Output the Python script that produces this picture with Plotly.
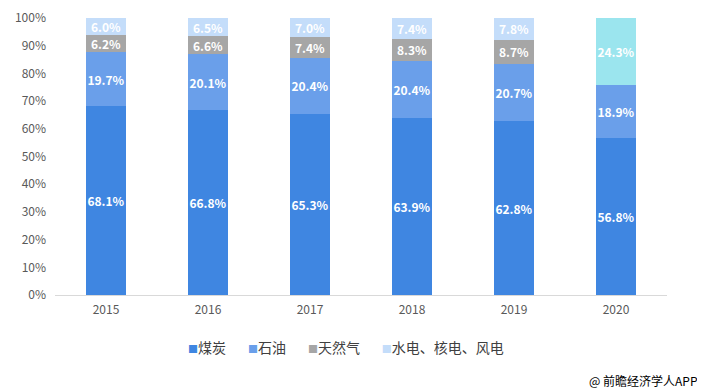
import plotly.graph_objects as go

years = ["2015", "2016", "2017", "2018", "2019", "2020"]
coal = [68.1, 66.8, 65.3, 63.9, 62.8, 56.8]
oil = [19.7, 20.1, 20.4, 20.4, 20.7, 18.9]
gas = [6.2, 6.6, 7.4, 8.3, 8.7, None]
clean = [6.0, 6.5, 7.0, 7.4, 7.8, 24.3]
series_names = ["煤炭", "石油", "天然气", "水电、核电、风电"]
tick_vals = [0, 10, 20, 30, 40, 50, 60, 70, 80, 90, 100]
tick_text = [f"{v}%" for v in tick_vals]

font_cn = "Noto Sans CJK SC, Microsoft YaHei, sans-serif"
colors = ["#3F86E1", "#6A9FEA", "#A6A6A6", "#C4DDFA"]
clean_colors = [colors[3]] * 5 + ["#9BE5EE"]

fig = go.Figure()
for name, vals, col in zip(series_names, [coal, oil, gas, clean],
                           [colors[0], colors[1], colors[2], clean_colors]):
    fig.add_trace(go.Bar(
        x=years, y=vals, name=name,
        marker=dict(color=col, line=dict(width=0)),
        texttemplate="%{y:.1f}%", textposition="inside",
        insidetextanchor="middle", textangle=0,
        textfont=dict(color="white", size=12, family=font_cn, weight="bold"),
        hoverinfo="skip", showlegend=False,
    ))

fig.update_layout(
    barmode="stack",
    bargap=0.6,
    width=697, height=384,
    margin=dict(l=47, r=38, t=10, b=97, autoexpand=False),
    plot_bgcolor="white", paper_bgcolor="white",
    font=dict(family=font_cn, color="#595959", size=12),
    uniformtext=dict(minsize=12, mode="show"),
    showlegend=False,
    xaxis=dict(showline=True, linecolor="#D9D9D9", linewidth=1, ticks="",
               ticklabelstandoff=4,
               tickfont=dict(size=12, color="#595959"), showgrid=False, automargin=False),
    yaxis=dict(range=[0, 100], tickvals=tick_vals, ticktext=tick_text, showgrid=False,
               zeroline=False, showline=False, automargin=False, ticklabelstandoff=8,
               tickfont=dict(size=12, color="#595959")),
)

# legend drawn as a single text line with coloured squares
sep = "&nbsp;" * 7
legend_html = sep.join(
    f"<span style='color:{c};font-size:10px'>■</span>{n}" for c, n in zip(colors, series_names)
)
fig.add_annotation(text=legend_html, xref="paper", yref="paper",
                   x=0.4755, y=-0.188, xanchor="center", yanchor="middle", showarrow=False,
                   font=dict(size=14, color="#404040", family=font_cn))

fig.add_annotation(text="@ 前瞻经济学人APP", xref="paper", yref="paper",
                   x=1.054, y=-0.31, xanchor="right", yanchor="middle", showarrow=False,
                   font=dict(size=12, color="#000000", family=font_cn))

fig.write_html("out.html")
